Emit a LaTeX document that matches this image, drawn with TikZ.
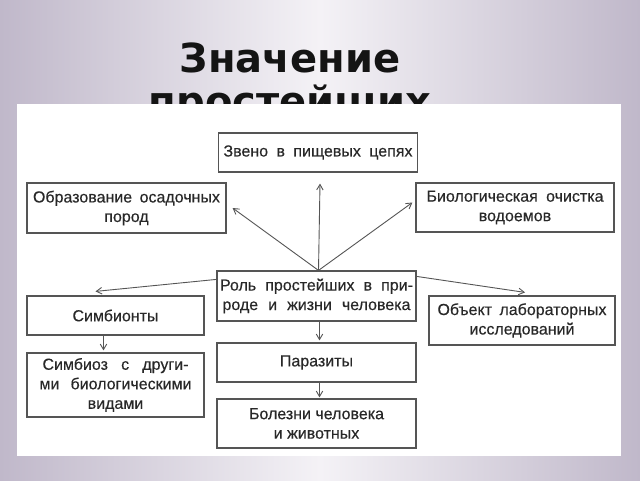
\documentclass[tikz,border=0pt]{standalone}
\usepackage{fontspec}
\newfontfamily\titlefont{DejaVu Sans}
\newfontfamily\boxfont{Liberation Sans}[FakeBold=0.3]
\usetikzlibrary{positioning,arrows.meta}
\definecolor{slidelav}{RGB}{192,184,202}
\definecolor{slidelight}{RGB}{244,242,246}
\definecolor{boxline}{RGB}{85,85,85}
\definecolor{boxtext}{RGB}{40,40,40}
\newcommand{\jline}[2]{\makebox[#1pt][s]{#2}}

\begin{document}
\begin{tikzpicture}[
        x=1pt, y=-1pt,
        % thin open tips, as in the textbook scheme
        >={Straight Barb[length=5.5pt,width=6.5pt]},
        box/.style={rectangle, draw=boxline, line width=1.2pt, fill=white,
            text=boxtext, minimum width=#1, inner sep=0pt, align=center,
            font=\boxfont\fontsize{16}{19.5}\selectfont},
        box/.default=199pt,
        link/.style={->, line width=0.9pt, draw=boxline}
    ]
        \useasboundingbox (0,0) rectangle (640,480);
        \shade[left color=slidelav, right color=slidelav, middle color=slidelight]
            (0,0) rectangle (640,480);

        % Title, partly hidden by the white sheet
        \node[font=\titlefont\bfseries\fontsize{40}{43}\selectfont, text=black!92,
            anchor=base] (title1) at (290,72) {Значение};
        \node[font=\titlefont\bfseries\fontsize{40}{43}\selectfont, text=black!92,
            anchor=base] (title2) at (290,115) {простейших};
        \fill[white] (17,104) rectangle (621,456);

        % Boxes
        \node[box, minimum height=39pt] (zveno) at (318,152.5)
            {\jline{189}{Звено в пищевых цепях}};
        \node[box, minimum height=50pt] (osad) at (126.5,208)
            {\jline{187}{Образование осадочных}\\пород};
        \node[box=198pt, minimum height=49pt] (bioch) at (515,207.5)
            {\jline{177}{Биологическая очистка}\\водоемов};
        \node[box, minimum height=50pt] (rol) at (316.5,296)
            {\jline{193}{Роль простейших в при-}\\\jline{188}{роде и жизни человека}};
        \node[box=177pt, minimum height=39pt] (simb) at (115.5,315.5) {Симбионты};
        \node[box=186pt, minimum height=49pt] (obj) at (522,320.5)
            {\jline{169}{Объект лабораторных}\\исследований};
        \node[box=177pt, minimum height=64pt] (simbioz) at (115.5,385)
            {\jline{146}{Симбиоз с други-}\\\jline{152}{ми биологическими}\\видами};
        \node[box, minimum height=39pt] (paraz) at (316.5,362.5) {Паразиты};
        \node[box, minimum height=49pt] (bolez) at (316.5,423.5)
            {Болезни человека\\и животных};

        % Connections
        \coordinate (hub) at ([xshift=2pt]rol.north);
        \draw[link] (hub) -- ([xshift=2pt,yshift=-11pt]zveno.south);
        \draw[link] (hub) -- ([xshift=6pt]osad.east);
        \draw[link] (hub) -- ([xshift=-3pt,yshift=5pt]bioch.west);
        \draw[link] ([yshift=-9pt]rol.north west) -- ([xshift=-20pt,yshift=4pt]simb.north);
        \draw[link] ([yshift=-6pt]rol.north east) -- ([xshift=3pt,yshift=3pt]obj.north);
        \draw[link] ([xshift=-12pt]simb.south) -- ([xshift=-12pt,yshift=2pt]simbioz.north);
        \draw[link] ([xshift=3pt]rol.south) -- ([xshift=3pt,yshift=2pt]paraz.north);
        \draw[link] ([xshift=3pt]paraz.south) -- ([xshift=3pt,yshift=1pt]bolez.north);
    \end{tikzpicture}
\end{document}
